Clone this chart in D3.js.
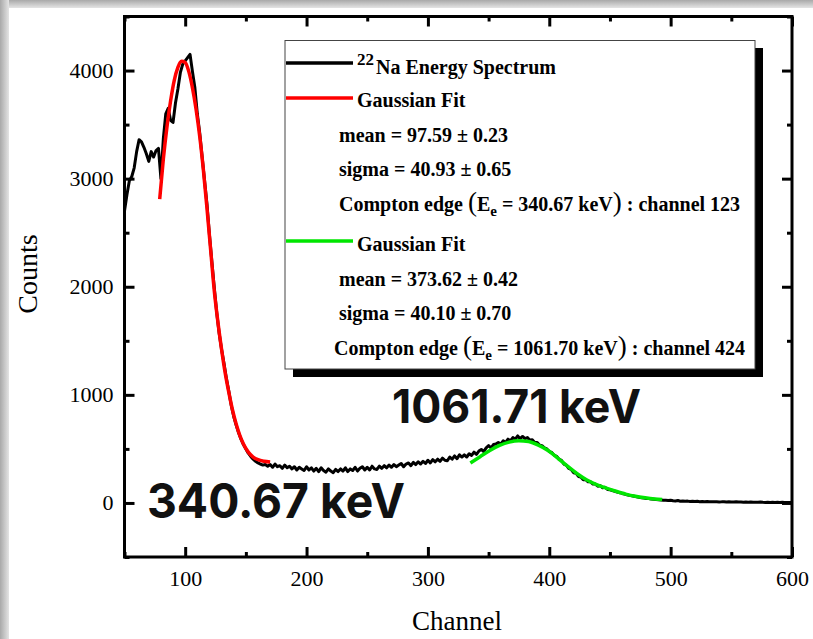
<!DOCTYPE html>
<html>
<head>
<meta charset="utf-8">
<title>22Na Energy Spectrum</title>
<script src="https://d3js.org/d3.v7.min.js"></script>
<style>
    body { margin: 0; background: #fff; }
    svg text { font-family: "Liberation Serif", "Times New Roman", serif; }
</style>
</head>
<body>
<svg width="813" height="639" id="mainSvg"></svg>
<script>
// ---- data ----
const channelStart = 50;
const channelStep = 2;
// measured spectrum, one value every 2 channels from 50 to 600
const spectrumCounts = [
    2700, 2850, 2980, 3020, 3100, 3250, 3360, 3340, 3290, 3230,
    3160, 3250, 3200, 3260, 3280, 3000, 3370, 3600, 3650, 3540,
    3520, 3700, 3830, 3980, 4060, 4090, 4120, 4150, 3990, 3840,
    3600, 3420, 3200, 2980, 2760, 2480, 2230, 1990, 1760, 1570,
    1420, 1290, 1150, 1030, 900, 800, 720, 650, 590, 540,
    500, 460, 430, 405, 385, 370, 360, 350, 355, 340,
    355, 330, 360, 335, 345, 320, 350, 325, 340, 315,
    335, 305, 330, 315, 300, 335, 305, 325, 295, 320,
    290, 325, 300, 285, 315, 295, 280, 310, 290, 315,
    295, 325, 290, 315, 300, 330, 295, 320, 335, 305,
    330, 305, 340, 315, 310, 340, 320, 345, 325, 350,
    330, 355, 335, 350, 365, 335, 360, 370, 345, 375,
    355, 380, 360, 385, 365, 395, 370, 400, 380, 405,
    385, 415, 395, 390, 425, 405, 435, 410, 445, 425,
    445, 425, 455, 440, 470, 450, 480, 495, 475, 510,
    530, 510, 540, 545, 560, 545, 575, 560, 590, 575,
    605, 590, 620, 595, 615, 595, 605, 580, 585, 560,
    560, 535, 530, 510, 500, 475, 468, 442, 432, 405,
    395, 360, 350, 320, 310, 280, 275, 245, 240, 215,
    215, 195, 195, 175, 175, 155, 160, 140, 145, 125,
    122, 115, 108, 100, 95, 88, 82, 76, 70, 66,
    62, 57, 52, 48, 45, 42, 40, 36, 34, 32,
    30, 28, 25, 24, 22, 25, 20, 18, 22, 16,
    18, 15, 17, 14, 16, 13, 15, 12, 14, 12,
    13, 11, 12, 10, 11, 9, 10, 12, 9, 10,
    9, 8, 10, 8, 9, 7, 8, 7, 9, 6,
    7, 6, 8, 6, 5, 7, 5, 6, 5, 6,
    5, 6, 5, 4, 5, 5
];

// first gaussian fit (red)
const fit1Channels = [79, 82, 85, 88, 91, 94, 97, 100, 103, 106, 109, 112, 115, 118, 121,
    124, 127, 130, 133, 136, 139, 142, 145, 148, 152, 156, 160, 165, 170];
const fit1Counts = [2810, 3180, 3480, 3720, 3910, 4030, 4085, 4075, 3990, 3840, 3640, 3390, 3080, 2720, 2340,
    1960, 1670, 1420, 1200, 1020, 860, 730, 625, 545, 470, 425, 400, 385, 378];

// second gaussian fit (green)
const fit2Channels = [335, 343, 351, 359, 367, 375, 383, 391, 399, 407, 415, 423, 431, 439, 447, 455, 463, 471, 479, 487, 493];
const fit2Counts = [370, 428, 485, 532, 563, 576, 568, 535, 485, 415, 340, 270, 212, 170, 137, 108, 82, 62, 48, 37, 31];

const xMajor = [100, 200, 300, 400, 500, 600];
const xMinor = [50, 150, 250, 350, 450, 550];
const yMajor = [0, 1000, 2000, 3000, 4000];
const yMinor = [-500, 500, 1500, 2500, 3500, 4500];

// ---- layout ----
const mainSvg = d3.select("#mainSvg");
const margin = { top: 16.5, right: 21, bottom: 82, left: 124.5 };
const W = +mainSvg.attr("width"), H = +mainSvg.attr("height");
const innerWidth = W - margin.left - margin.right;
const innerHeight = H - margin.top - margin.bottom;

// grey screenshot edge
const defs = mainSvg.append("defs");
const gTop = defs.append("linearGradient").attr("id", "edgeTop").attr("x1", 0).attr("y1", 0).attr("x2", 0).attr("y2", 1);
gTop.append("stop").attr("offset", "0%").attr("stop-color", "#a9a9a9");
gTop.append("stop").attr("offset", "100%").attr("stop-color", "#e4e4e4");
const gLeft = defs.append("linearGradient").attr("id", "edgeLeft").attr("x1", 0).attr("y1", 0).attr("x2", 1).attr("y2", 0);
gLeft.append("stop").attr("offset", "0%").attr("stop-color", "#a9a9a9");
gLeft.append("stop").attr("offset", "100%").attr("stop-color", "#e4e4e4");
mainSvg.append("rect").attr("x", 0).attr("y", 0).attr("width", W).attr("height", 8).attr("fill", "url(#edgeTop)");
mainSvg.append("rect").attr("x", 0).attr("y", 0).attr("width", 9).attr("height", H).attr("fill", "url(#edgeLeft)");

defs.append("clipPath").attr("id", "plotClip")
    .append("rect").attr("width", innerWidth).attr("height", innerHeight);

const g = mainSvg.append("g")
    .attr("transform", `translate(${margin.left}, ${margin.top})`);

const xScale = d3.scaleLinear().domain([50, 600]).range([0, innerWidth]);
const yScale = d3.scaleLinear().domain([-500, 4500]).range([innerHeight, 0]);

// ---- axes (ticks inward on all sides) ----
const styleAxis = sel => {
    sel.select(".domain").remove();
    sel.selectAll(".tick line").attr("stroke", "#000").attr("stroke-width", 3);
    sel.selectAll(".tick text").attr("fill", "#000").attr("font-size", "22px")
        .style("font-family", "'Liberation Serif', serif");
};

g.append("g").attr("transform", `translate(0, ${innerHeight})`)
    .call(d3.axisBottom(xScale).tickValues(xMajor).tickSize(-10).tickPadding(13).tickFormat(d3.format("d")))
    .call(styleAxis);
g.append("g").attr("transform", `translate(0, ${innerHeight})`)
    .call(d3.axisBottom(xScale).tickValues(xMinor).tickSize(-5).tickFormat(""))
    .call(styleAxis);
g.append("g")
    .call(d3.axisTop(xScale).tickValues(xMajor).tickSize(-10).tickFormat(""))
    .call(styleAxis);
g.append("g")
    .call(d3.axisTop(xScale).tickValues(xMinor).tickSize(-5).tickFormat(""))
    .call(styleAxis);

g.append("g")
    .call(d3.axisLeft(yScale).tickValues(yMajor).tickSize(-10).tickPadding(11).tickFormat(d3.format("d")))
    .call(styleAxis);
g.append("g")
    .call(d3.axisLeft(yScale).tickValues(yMinor).tickSize(-5).tickFormat(""))
    .call(styleAxis);
g.append("g").attr("transform", `translate(${innerWidth}, 0)`)
    .call(d3.axisRight(yScale).tickValues(yMajor).tickSize(-10).tickFormat(""))
    .call(styleAxis);
g.append("g").attr("transform", `translate(${innerWidth}, 0)`)
    .call(d3.axisRight(yScale).tickValues(yMinor).tickSize(-5).tickFormat(""))
    .call(styleAxis);

// ---- curves ----
const spectrum = spectrumCounts.map((v, i) => ({ c: channelStart + i * channelStep, v: v }));
const fit1 = fit1Channels.map((c, i) => ({ c: c, v: fit1Counts[i] }));
const fit2 = fit2Channels.map((c, i) => ({ c: c, v: fit2Counts[i] }));

const plot = g.append("g").attr("clip-path", "url(#plotClip)");
const rawLine = d3.line().x(d => xScale(d.c)).y(d => yScale(d.v));
const smoothLine = d3.line().x(d => xScale(d.c)).y(d => yScale(d.v)).curve(d3.curveMonotoneX);

plot.append("path").datum(spectrum)
    .attr("d", rawLine).attr("fill", "none").attr("stroke", "#000")
    .attr("stroke-width", 3).attr("stroke-linejoin", "round");
plot.append("path").datum(fit1)
    .attr("d", smoothLine).attr("fill", "none").attr("stroke", "#ff0000").attr("stroke-width", 3.5);
plot.append("path").datum(fit2)
    .attr("d", smoothLine).attr("fill", "none").attr("stroke", "#00e600").attr("stroke-width", 3.5);

// frame
g.append("rect").attr("width", innerWidth).attr("height", innerHeight)
    .attr("fill", "none").attr("stroke", "#000").attr("stroke-width", 3);

// axis titles
mainSvg.append("text").attr("x", 457).attr("y", 630).attr("text-anchor", "middle")
    .attr("font-size", "27px").text("Channel");
mainSvg.append("text").attr("transform", "translate(37, 274) rotate(-90)").attr("text-anchor", "middle")
    .attr("font-size", "28px").text("Counts");

// ---- big annotations ----
mainSvg.append("text").attr("x", 147).attr("y", 518)
    .attr("font-size", "48px").attr("font-weight", 700).style("font-family", "Inter, sans-serif")
    .attr("fill", "#111").attr("textLength", 258).attr("lengthAdjust", "spacingAndGlyphs")
    .text("340.67 keV");
mainSvg.append("text").attr("x", 392).attr("y", 423)
    .attr("font-size", "46px").attr("font-weight", 700).style("font-family", "Inter, sans-serif")
    .attr("fill", "#111").attr("textLength", 249).attr("lengthAdjust", "spacingAndGlyphs")
    .text("1061.71 keV");

// ---- legend ----
const legend = mainSvg.append("g").attr("font-weight", "bold").attr("font-size", "20px");
// drop shadow on the right and bottom edges only
legend.append("rect").attr("x", 755).attr("y", 48).attr("width", 8).attr("height", 329).attr("fill", "#000");
legend.append("rect").attr("x", 293).attr("y", 369).attr("width", 470).attr("height", 8).attr("fill", "#000");
legend.append("rect").attr("x", 285).attr("y", 40.5).attr("width", 470).attr("height", 328.5)
    .attr("fill", "#fff").attr("stroke", "#444").attr("stroke-width", 1);

const legendLines = [
    { y: 63, color: "#000" },
    { y: 98, color: "#ff0000" },
    { y: 241, color: "#00e600" }
];
legend.selectAll(".lgLine").data(legendLines).join("line")
    .attr("class", "lgLine")
    .attr("x1", 286).attr("x2", 353).attr("y1", d => d.y).attr("y2", d => d.y)
    .attr("stroke", d => d.color).attr("stroke-width", 3.5);

const t1 = legend.append("text").attr("x", 357).attr("y", 65);
t1.append("tspan").attr("font-size", "17px").text("22");
t1.append("tspan").attr("x", 376).attr("y", 74).text("Na Energy Spectrum");

legend.append("text").attr("x", 357).attr("y", 107).text("Gaussian Fit");
legend.append("text").attr("x", 339).attr("y", 141.5).text("mean = 97.59 \u00b1 0.23");
legend.append("text").attr("x", 339).attr("y", 176).text("sigma = 40.93 \u00b1 0.65");
legend.append("text").attr("x", 357).attr("y", 250.5).text("Gaussian Fit");
legend.append("text").attr("x", 339).attr("y", 286).text("mean = 373.62 \u00b1 0.42");
legend.append("text").attr("x", 339).attr("y", 320).text("sigma = 40.10 \u00b1 0.70");

const compton = (x, y, energy, channel) => {
    const t = legend.append("text").attr("x", x).attr("y", y);
    t.append("tspan").text("Compton edge ");
    t.append("tspan").attr("font-size", "27px").attr("font-weight", "normal").text("(");
    t.append("tspan").text("E");
    t.append("tspan").attr("font-size", "15px").attr("dy", 5).text("e");
    t.append("tspan").attr("dy", -5).text(` = ${energy} keV`);
    t.append("tspan").attr("font-size", "27px").attr("font-weight", "normal").text(")");
    t.append("tspan").text(` : channel ${channel}`);
};
compton(339, 211, "340.67", 123);
compton(334, 355, "1061.70", 424);
</script>
</body>
</html>
